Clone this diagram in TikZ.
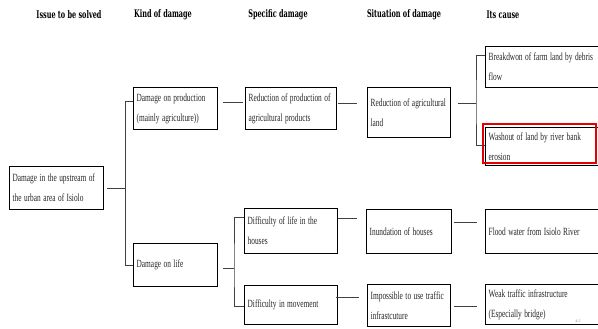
\documentclass[tikz,border=0pt]{standalone}
\usepackage{fontspec}
\usepackage{graphicx}
\usetikzlibrary{calc}
\newfontfamily\boxfont{Liberation Serif}
\newfontfamily\headfont{DejaVu Serif}
% type settings for cells and column titles
\newcommand\cellfont{\boxfont\fontsize{11}{20}\selectfont}
\newcommand\titlefont{\headfont\bfseries\fontsize{10.5}{11}\selectfont}
% one unbreakable, condensed line of cell text
\newcommand\rowtext[1]{\scalebox{0.67}[1]{#1}}
% condensed column title
\newcommand\titletext[1]{\scalebox{0.62}[1]{#1}}
\begin{document}
\begin{tikzpicture}[x=1pt,y=-1pt,
  cell/.style={draw=black, line width=1.3pt, anchor=north west, inner xsep=3pt, inner ysep=0pt,
    align=left, text=black!85, font=\cellfont},
  head/.style={font=\titlefont, inner sep=0pt},
  conn/.style={draw=black!75, line width=0.8pt},
  redframe/.style={draw=red!90!black, line width=1.6pt}]
\useasboundingbox (0,0) rectangle (598,329);
\clip (0,0) rectangle (598,329);

% column titles
\node[head] (h1) at (69,15) {\titletext{Issue to be solved}};
\node[head] (h2) at (163,15) {\titletext{Kind of damage}};
\node[head] (h3) at (278,15) {\titletext{Specific damage}};
\node[head] (h4) at (404,15) {\titletext{Situation of damage}};
\node[head] (h5) at (503,15) {\titletext{Its cause}};

% boxes
\node[cell, minimum width=94pt, minimum height=43pt, text width=88pt] (root) at (9,166)
  {\rowtext{Damage in the upstream of}\\\rowtext{the urban area of Isiolo}};
\node[cell, minimum width=84pt, minimum height=42pt, text width=78pt] (prod) at (133,87)
  {\rowtext{Damage on production}\\\rowtext{(mainly agriculture))}};
\node[cell, minimum width=84pt, minimum height=43pt, text width=78pt] (life) at (133,243)
  {\rowtext{Damage on life}};
\node[cell, minimum width=91pt, minimum height=42pt, text width=85pt] (reduce) at (245,87)
  {\rowtext{Reduction of production of}\\\rowtext{agricultural products}};
\node[cell, minimum width=93pt, minimum height=45pt, text width=87pt] (difflife) at (244,208)
  {\rowtext{Difficulty of life in the}\\\rowtext{houses}};
\node[cell, minimum width=93pt, minimum height=39pt, text width=87pt] (diffmove) at (244,285)
  {\rowtext{Difficulty in movement}};
\node[cell, minimum width=83pt, minimum height=50pt, text width=77pt] (land) at (367,87)
  {\rowtext{Reduction of agricultural}\\\rowtext{land}};
\node[cell, minimum width=85pt, minimum height=44pt, text width=79pt] (inund) at (366,209)
  {\rowtext{Inundation of houses}};
\node[cell, minimum width=83pt, minimum height=42pt, text width=77pt] (imposs) at (367,284)
  {\rowtext{Impossible to use traffic}\\\rowtext{infrastcuture}};
\node[cell, minimum width=135pt, minimum height=41pt, text width=129pt] (debris) at (485,46)
  {\rowtext{Breakdwon of farm land by debris}\\\rowtext{flow}};
\node[cell, minimum width=135pt, minimum height=38pt, text width=129pt] (washout) at (485,127)
  {\rowtext{Washout of land by river bank}\\\rowtext{erosion}};
\node[cell, minimum width=135pt, minimum height=44pt, text width=129pt] (flood) at (485,209)
  {\rowtext{Flood water from Isiolo River}};
\node[cell, minimum width=135pt, minimum height=40pt, text width=129pt] (weak) at (485,284)
  {\rowtext{Weak traffic infrastructure}\\\rowtext{(Especially bridge)}};

% highlight round the washout box
\draw[redframe] (483,124) rectangle (596,163);

% bracket from the issue to the two kinds of damage
\draw[conn] ([xshift=3pt]root.east) -- ([xshift=21pt]root.east) coordinate (j1);
\draw[conn] ([yshift=7pt]prod.west) -| (j1) |- (life.west);

% production branch
\coordinate (a1) at ([xshift=5pt,yshift=6pt]prod.east);
\draw[conn] (a1) -- ($(a1 -| reduce.west)+(-2,0)$);
\coordinate (a2) at ([xshift=1pt,yshift=5pt]reduce.east);
\draw[conn] (a2) -- ($(a2 -| land.west)+(-10,0)$);
\coordinate (a3) at ([xshift=7pt,yshift=9pt]land.east);
\draw[conn] (a3) -- ($(a3 -| debris.west)+(-9,0)$) coordinate (j2);
\draw[conn] ([yshift=11.5pt]debris.west) -| (j2) |- ([yshift=1pt]washout.west);

% life branch
\coordinate (b1) at ([xshift=5pt,yshift=-3.5pt]life.east);
\draw[conn] (b1) -- ($(b1 -| difflife.west)+(-10,0)$) coordinate (j3);
\draw[conn] ([yshift=13.5pt]difflife.west) -| (j3) |- ([yshift=-1.5pt]diffmove.west);

\coordinate (b2) at ([yshift=12.5pt]difflife.east);
\draw[conn] (b2) -- ($(b2 -| inund.west)+(-9,0)$);
\coordinate (b3) at ([xshift=2pt,yshift=9pt]inund.east);
\draw[conn] (b3) -- ($(b3 -| flood.west)+(-8,0)$);
\coordinate (b4) at ([xshift=-2pt,yshift=7.5pt]diffmove.east);
\draw[conn] (b4) -- ($(b4 -| imposs.west)+(-8,0)$);
\coordinate (b5) at ([xshift=3pt,yshift=-1pt]imposs.east);
\draw[conn] (b5) -- ($(b5 -| weak.west)+(-8,0)$);

% page number
\node[font=\boxfont\fontsize{4}{4}\selectfont, text=black!45, inner sep=0pt] (pg) at (578,321) {4-5};
\end{tikzpicture}
\end{document}
